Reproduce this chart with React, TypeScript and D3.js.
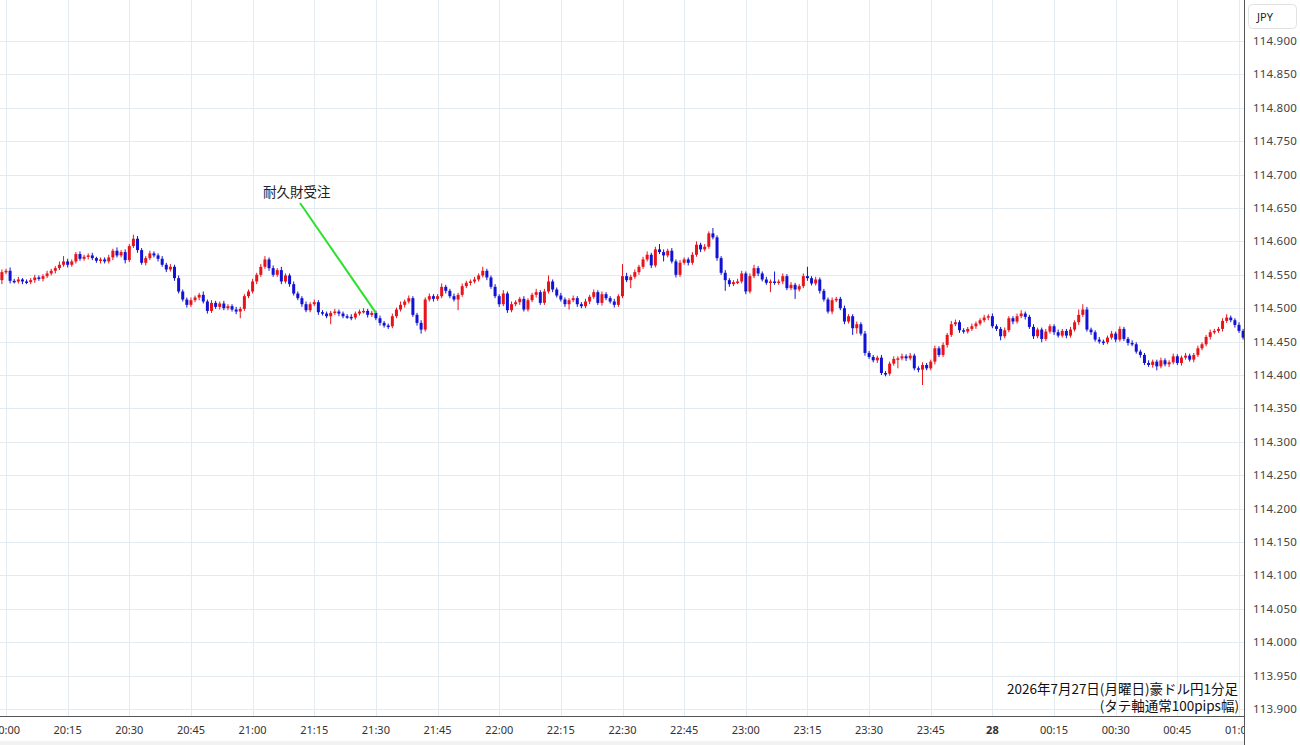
import React from "react";
import * as d3 from "d3";

// closes in pips above 114.000, one per minute from 19:59
const firstOpen = 54.2;
const closes = [
  55.4,55.6,54.1,54.0,54.3,54.0,53.9,54.2,54.6,54.4,54.8,55.2,55.6,56.0,56.5,57.0,56.5,57.0,58.1,57.4,
  57.7,57.9,57.5,57.1,57.3,57.0,57.6,58.6,57.9,58.4,57.2,59.3,60.4,58.7,56.8,57.5,58.2,57.9,57.4,56.5,
  55.8,56.2,54.5,52.5,51.3,50.5,51.2,51.6,52.0,51.0,49.6,50.8,50.2,50.7,50.0,50.3,49.8,49.5,49.9,51.8,
  52.5,54.0,55.0,56.2,57.3,56.0,55.0,55.7,54.0,54.9,53.6,52.2,51.5,50.6,49.7,50.6,50.9,49.4,49.2,48.8,
  49.3,49.5,49.2,48.8,48.7,48.6,49.2,49.5,49.6,49.0,49.3,48.5,47.8,47.4,47.3,48.8,49.8,50.5,51.0,51.5,
  49.0,47.8,46.8,51.3,51.8,51.4,51.8,53.2,52.6,51.8,51.3,52.0,53.3,53.8,54.0,54.3,54.9,55.6,54.6,53.2,
  51.8,50.6,52.2,49.7,50.6,50.9,51.4,49.8,51.2,52.0,52.4,50.8,52.5,54.0,52.8,51.9,51.3,50.6,51.2,51.5,
  50.6,50.3,51.0,51.7,52.4,50.8,52.1,51.5,51.0,50.5,51.8,54.8,54.2,54.7,55.4,56.2,57.3,58.0,56.4,58.8,
  58.4,57.9,58.6,57.0,55.0,56.8,57.3,56.8,58.0,59.5,58.8,59.2,61.2,60.6,57.5,55.3,54.2,53.6,53.9,54.0,
  55.2,52.5,54.8,56.0,55.2,54.3,53.8,54.0,53.8,54.0,54.8,53.0,53.5,52.8,53.3,54.8,54.5,53.7,54.3,52.6,
  51.3,49.5,51.2,51.4,50.0,48.0,48.8,47.0,47.6,46.2,43.3,42.7,42.2,42.6,40.3,40.2,41.7,42.4,42.5,42.8,
  42.5,42.9,41.0,40.8,41.5,41.0,42.0,44.0,43.0,44.5,46.0,47.6,47.9,46.7,46.5,46.9,47.3,47.7,48.2,48.6,
  48.8,47.3,46.9,45.8,46.7,48.5,48.0,48.8,49.2,48.7,47.2,45.8,46.8,45.4,46.5,47.3,46.4,45.9,46.6,45.9,
  46.8,47.9,49.0,49.8,46.8,46.4,45.3,45.0,44.9,45.6,46.2,45.3,46.9,45.4,44.8,44.6,43.5,43.0,41.8,41.5,
  42.0,41.3,42.2,41.6,41.9,42.8,41.8,42.6,42.9,42.3,43.0,44.0,44.6,45.7,46.4,46.6,46.9,48.1,48.6,48.2,
  47.5,46.6,45.6,
];
// wick lengths in pips
const upperWicks = [
  0.4,0.3,0.5,0.3,0.4,0.2,0.3,0.3,0.4,0.3,0.3,0.4,0.3,0.3,0.5,0.8,0.4,0.3,0.3,0.4,
  0.3,0.3,0.4,0.2,0.3,0.3,0.4,0.3,0.5,0.3,0.4,0.3,0.6,0.4,0.3,0.3,0.4,0.3,0.3,0.4,
  0.3,0.4,0.3,0.4,0.3,0.3,0.4,0.3,0.3,0.5,0.3,0.4,0.3,0.3,0.4,0.3,0.3,0.4,0.3,0.3,
  0.3,0.4,0.3,0.4,0.5,0.3,0.4,0.3,0.5,0.3,0.3,0.4,0.3,0.3,0.4,0.3,0.4,0.3,0.3,0.3,
  0.3,0.4,0.3,0.3,0.3,0.4,0.3,0.3,0.4,0.3,0.3,0.3,0.4,0.3,0.3,0.4,0.3,0.5,0.3,0.4,
  0.3,0.3,0.4,0.3,0.4,0.3,0.3,0.5,0.3,0.3,0.4,0.3,0.4,0.3,0.3,0.4,0.3,0.6,0.3,0.3,
  0.4,0.3,0.5,0.3,0.4,0.3,0.3,0.4,0.3,0.3,0.5,0.3,0.4,0.9,0.3,0.3,0.4,0.3,0.3,0.4,
  0.3,0.3,0.4,0.3,0.4,0.3,0.4,0.3,0.3,0.4,0.3,1.8,0.5,0.3,0.4,0.3,0.4,0.5,0.3,0.4,
  0.8,0.4,0.3,0.4,0.3,0.4,0.3,0.3,0.4,0.5,0.3,0.4,0.3,0.8,0.3,0.3,0.4,0.3,0.3,0.4,
  0.4,0.3,0.4,0.5,0.3,0.3,0.4,0.3,1.5,0.3,0.4,0.3,0.4,0.3,0.3,0.4,1.4,0.3,0.4,0.3,
  0.3,0.3,0.4,0.3,0.3,0.4,0.3,0.3,0.4,0.3,0.4,0.3,0.3,0.3,0.4,0.3,0.3,0.4,0.3,0.4,
  0.3,0.4,0.3,0.3,0.4,0.3,0.3,0.4,0.3,0.4,0.3,0.5,0.4,0.3,0.3,0.3,0.4,0.3,0.3,0.4,
  0.3,0.4,0.3,0.3,0.4,0.3,0.3,0.4,0.5,0.3,0.3,0.4,0.3,0.3,0.4,0.3,0.3,0.4,0.3,0.3,
  0.4,0.3,0.8,0.8,0.4,0.3,0.3,0.4,0.3,0.3,0.4,0.3,0.4,0.3,0.3,0.4,0.3,0.3,0.3,0.4,
  0.3,0.3,0.4,0.3,0.3,0.4,0.3,0.3,0.4,0.3,0.3,0.4,0.3,0.3,0.4,0.3,0.3,0.4,0.5,0.3,
  0.3,0.4,0.3,
];
const lowerWicks = [
  0.6,0.3,0.4,0.3,0.3,0.4,0.3,0.3,0.4,0.3,0.4,0.3,0.3,0.4,0.3,0.3,0.4,0.3,0.3,0.3,
  0.3,0.4,0.3,0.3,0.4,0.3,0.3,0.4,0.3,0.3,0.5,0.3,0.3,0.4,0.3,0.4,0.3,0.3,0.4,0.3,
  0.4,0.3,0.4,0.3,0.3,0.4,0.3,0.3,0.4,0.3,0.4,0.3,0.3,0.4,0.3,0.3,0.3,0.4,1.0,0.3,
  0.3,0.3,0.4,0.3,0.3,0.4,0.3,0.3,0.4,0.3,0.4,0.3,0.3,0.4,0.3,0.3,0.3,0.4,0.3,0.3,
  1.2,0.3,0.4,0.3,0.3,0.4,0.3,0.3,0.3,0.4,0.3,0.3,0.4,0.3,0.4,0.3,0.3,0.3,0.4,0.3,
  0.3,0.4,0.6,0.3,0.3,0.4,0.3,0.3,0.4,0.3,0.3,1.6,0.3,0.3,0.4,0.3,0.3,0.3,0.4,0.3,
  0.3,0.4,0.3,0.4,0.3,0.3,0.4,0.3,0.3,0.3,0.4,0.3,0.3,0.3,0.4,0.3,0.3,0.4,0.8,0.3,
  0.4,0.3,0.3,0.4,0.3,0.3,0.4,0.3,0.3,0.4,0.3,0.3,0.3,1.2,0.3,0.4,0.3,0.3,0.4,0.3,
  0.3,0.9,0.3,0.3,0.4,0.3,0.3,0.4,0.3,0.3,0.4,0.3,0.3,0.3,0.4,0.3,1.6,0.4,0.3,0.3,
  0.3,0.4,0.3,0.3,0.4,0.3,0.3,1.4,0.3,0.3,0.4,0.3,0.3,1.4,0.3,0.3,0.4,0.3,0.3,0.4,
  0.3,0.3,0.4,0.3,0.3,0.4,0.3,1.0,0.8,0.3,0.4,0.3,0.3,0.4,0.3,0.4,0.3,0.3,1.4,0.3,
  0.4,0.3,0.3,0.4,2.3,0.3,0.3,0.4,0.3,0.3,0.4,0.3,0.3,0.4,0.3,0.3,0.3,0.4,0.3,0.3,
  0.4,0.3,0.3,0.6,0.3,0.3,0.4,0.3,0.3,0.4,0.3,0.4,0.3,0.5,0.3,0.3,0.4,0.3,0.3,0.4,
  0.3,0.3,0.4,0.3,0.3,0.4,0.3,0.3,0.4,0.3,0.3,0.4,0.3,0.3,0.4,0.3,0.3,0.4,0.3,0.3,
  0.4,0.6,0.3,0.3,0.4,0.3,0.3,0.4,0.3,0.3,0.4,0.3,0.3,0.3,0.4,0.3,0.3,0.4,0.3,0.3,
  0.4,0.3,0.3,
];

const priceTicks = [
  113.9, 113.95, 114.0, 114.05, 114.1, 114.15, 114.2, 114.25, 114.3, 114.35, 114.4,
  114.45, 114.5, 114.55, 114.6, 114.65, 114.7, 114.75, 114.8, 114.85, 114.9,
];
const timeTickLabels = [
  "20:00","20:15","20:30","20:45","21:00","21:15","21:30","21:45","22:00","22:15","22:30",
  "22:45","23:00","23:15","23:30","23:45","28","00:15","00:30","00:45","01:00",
];
const annotationText = "耐久財受注";
const annotationTime = new Date(2026, 6, 27, 21, 30);
const annotationPrice = 114.493;
const captionLines = ["2026年7月27日(月曜日)豪ドル円1分足", "(タテ軸通常100pips幅)"];

const W = 1300, H = 745;
const plotRight = 1244, axisY = 716;
const UP = "#e8141c", DOWN = "#1212d4";
const GRID = "#e3ebf1";

const startTime = new Date(2026, 6, 27, 19, 59);

export default function App() {
  const x = d3.scaleTime()
    .domain([new Date(2026, 6, 27, 20, 0), new Date(2026, 6, 28, 1, 0)])
    .range([6, 1239]);
  const y = d3.scaleLinear().domain([113.9, 114.9]).range([709, 41]);
  const xTicks = x.ticks(d3.timeMinute.every(15) as any);

  const candles = closes.map((c, i) => {
    const o = i === 0 ? firstOpen : closes[i - 1];
    const open = 114 + o / 100, close = 114 + c / 100;
    const high = Math.max(open, close) + upperWicks[i] / 100;
    const low = Math.min(open, close) - lowerWicks[i] / 100;
    return { t: d3.timeMinute.offset(startTime, i), open, close, high, low };
  });
  const bw = 3;
  const font = "'Noto Sans', 'Open Sans', sans-serif";
  const cjk = "'Noto Sans CJK JP', sans-serif";

  const ax = x(annotationTime), ay = y(annotationPrice);

  return (
    <div style={{ position: "absolute", left: 0, top: 0 }}>
      <svg width={W} height={H} style={{ display: "block", background: "#fff" }}>
        <defs>
          <clipPath id="plotClip"><rect x={0} y={0} width={plotRight} height={H} /></clipPath>
        </defs>
        <g clipPath="url(#plotClip)">
          {priceTicks.map((p) => (
            <line key={"h" + p} x1={0} x2={plotRight} y1={Math.round(y(p)) + 0.5} y2={Math.round(y(p)) + 0.5} stroke={GRID} />
          ))}
          {xTicks.map((t, i) => (
            <line key={"v" + i} x1={Math.round(x(t)) + 0.5} x2={Math.round(x(t)) + 0.5} y1={0} y2={axisY} stroke={GRID} />
          ))}
          {candles.map((d, i) => {
            const cx = x(d.t);
            const up = d.close >= d.open;
            const col = up ? UP : DOWN;
            const top = y(Math.max(d.open, d.close));
            const bot = y(Math.min(d.open, d.close));
            return (
              <g key={i}>
                <line x1={cx} x2={cx} y1={y(d.high)} y2={y(d.low)} stroke={col} strokeWidth={1} />
                <rect x={cx - bw / 2} y={top} width={bw} height={Math.max(1.5, bot - top)} fill={col} />
              </g>
            );
          })}
          <line x1={0} x2={plotRight} y1={axisY + 0.5} y2={axisY + 0.5} stroke="#555" />
          {xTicks.map((t, i) => (
            <text key={"xt" + i} x={x(t)} y={734} textAnchor="middle" fontFamily={font} fontSize={11}
              fill="#333" fontWeight={timeTickLabels[i] === "28" ? 700 : 400}>{timeTickLabels[i]}</text>
          ))}
        </g>
        {/* annotation */}
        <line x1={300} x2={ax} y1={203} y2={ay} stroke="#2ee02e" strokeWidth={2} />
        <text x={263} y={197} fontFamily={cjk} fontSize={13.5} fill="#222">{annotationText}</text>
        {/* caption */}
        <text x={1238} y={694} textAnchor="end" fontFamily={cjk} fontSize={13.5} fill="#111">{captionLines[0]}</text>
        <text x={1239} y={711} textAnchor="end" fontFamily={cjk} fontSize={13.5} fill="#111">{captionLines[1]}</text>
        {/* right axis */}
        <line x1={plotRight + 0.5} x2={plotRight + 0.5} y1={0} y2={H} stroke="#555" />
        {priceTicks.map((p) => (
          <text key={"yt" + p} x={1253} y={y(p) + 4} fontFamily={font} fontSize={11.5} letterSpacing={0.2} fill="#444">{p.toFixed(3)}</text>
        ))}
        <rect x={1248.5} y={4.5} width={48} height={24} rx={4} fill="#fff" stroke="#e2e2e2" />
        <text x={1257} y={21} fontFamily={font} fontSize={11} fill="#222">JPY</text>
        <rect x={0} y={741} width={plotRight} height={4} fill="#f2f2f2" />
      </svg>
    </div>
  );
}
